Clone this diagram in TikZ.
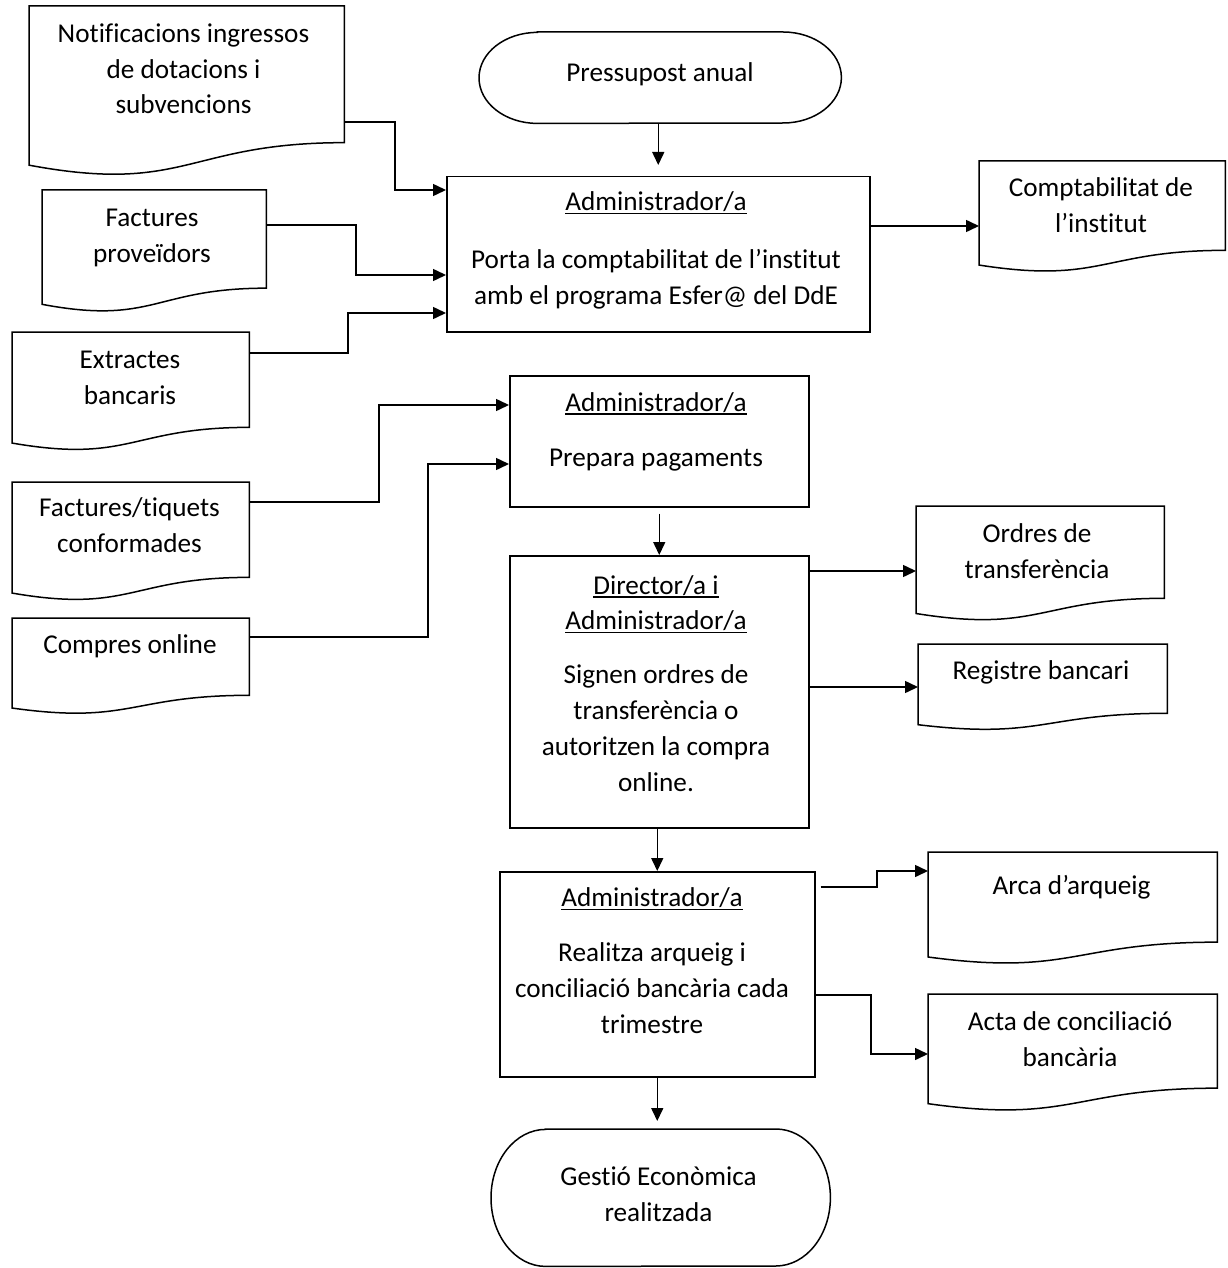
\documentclass[tikz,border=0pt]{standalone}
\usepackage{fontspec}
\setmainfont{Carlito}[Ligatures=NoCommon]
\usetikzlibrary{arrows.meta,calc}
\newcommand\myul[1]{\setbox0\hbox{#1}\rlap{\rule[-3.5pt]{\wd0}{1.3pt}}\box0}
\tikzset{
  line/.style={line width=1.5pt, draw=black, line join=miter},
  arr/.style={line width=1.5pt, -{Triangle[length=13pt,width=12pt]}},
  box/.style={draw, line width=1.5pt, rectangle, inner sep=0pt, anchor=north west},
  ghost/.style={draw=none, rectangle, inner sep=0pt, anchor=north west},
  txt/.style={align=center, anchor=base, inner sep=0pt, font=\fontsize{27.2}{35.8}\selectfont},
}
% name, x1, top, x2, H
\newcommand\docshape[5]{%
  \node[ghost, minimum width={(#4-#2)*1pt}, minimum height={#5*1pt}] (#1) at (#2,#3) {};
  \draw[line] (#1.north west) -- (#1.north east) -- ($(#1.north east)!0.802!(#1.south east)$)
    .. controls ($(#1.north)!0.802!(#1.south)$) and ($(#1.north)!1.107!(#1.south)$) ..
    ($(#1.north west)!0.934!(#1.south west)$) -- cycle;
}
% name, x1, top, x2, bottom
\newcommand\termshape[5]{%
  \node[ghost, minimum width={(#4-#2)*1pt}, minimum height={(#5-#3)*1pt}] (#1) at (#2,#3) {};
  \pgfmathsetmacro\trx{0.161*(#4-#2)}
  \pgfmathsetmacro\try{0.5*(#5-#3)}
  \draw[line] ([xshift=\trx pt]#1.north west) -- ([xshift=-\trx pt]#1.north east)
    arc[start angle=90, end angle=-90, x radius=\trx pt, y radius=\try pt]
    -- ([xshift=\trx pt]#1.south west)
    arc[start angle=270, end angle=90, x radius=\trx pt, y radius=\try pt] -- cycle;
}
\begin{document}
\begin{tikzpicture}[x=1pt, y=-1pt]
\useasboundingbox (0,0) rectangle (1227,1268);

% terminators
\termshape{t1}{479}{32}{841}{123}
\termshape{t2}{491}{1129}{830}{1266}
\node[txt] (t1t) at (660,82) {Pressupost anual};
\node[txt] (t2t) at (658.5,1221) {Gestió Econòmica\\realitzada};

% process boxes
\node[box, minimum width=423pt, minimum height=155pt] (A) at (446,176) {};
\node[box, minimum width=299pt, minimum height=131pt] (B) at (509,375) {};
\node[box, minimum width=299pt, minimum height=272pt] (C) at (509,555) {};
\node[box, minimum width=315pt, minimum height=205pt] (D) at (499,871) {};

% text nodes: anchor base = baseline of the last line
\node[txt] (At) at (656,304) {\myul{Administrador/a}\\[22pt]Porta la comptabilitat de l’institut\\amb el programa Esfer@ del DdE};
\node[txt] (Bt) at (656,466) {\myul{Administrador/a}\\[19pt]Prepara pagaments};
\node[txt] (Ct) at (656,791) {\myul{Director/a i}\\\myul{Administrador/a}\\[18pt]Signen ordres de\\transferència o\\autoritzen la compra\\online.};
\node[txt] (Dt) at (652,1033) {\myul{Administrador/a}\\[19pt]Realitza arqueig i\\conciliació bancària cada\\trimestre};

% documents
\docshape{d1}{29}{6}{344}{170}
\docshape{d2}{42}{190}{266}{122}
\docshape{d3}{12}{332}{249}{118.5}
\docshape{d4}{12}{482}{249}{118.5}
\docshape{d5}{12}{618}{249}{96}
\docshape{r1}{979}{161}{1225}{111}
\docshape{r2}{916}{506}{1164}{114.7}
\docshape{r3}{918}{644}{1167}{86}
\docshape{r4}{928}{852}{1217}{112}
\docshape{r5}{928}{994}{1217}{117}

\node[txt] (d1t) at (183.5,114) {Notificacions ingressos\\de dotacions i\\subvencions};
\node[txt] (d2t) at (152,262) {Factures\\proveïdors};
\node[txt] (d3t) at (130,404) {Extractes\\bancaris};
\node[txt] (d4t) at (129.5,552) {Factures/tiquets\\conformades};
\node[txt] (d5t) at (130,653) {Compres online};
\node[txt] (r1t) at (1101,232) {Comptabilitat de\\l’institut};
\node[txt] (r2t) at (1037,578) {Ordres de\\transferència};
\node[txt] (r3t) at (1041,679) {Registre bancari};
\node[txt] (r4t) at (1071.5,894) {Arca d’arqueig};
\node[txt] (r5t) at (1070,1066) {Acta de conciliació\\bancària};

% main flow
\draw[arr, shorten >=11pt] (A.north |- t1.south) -- (A.north);
\draw[arr, shorten <=6pt] (B.south) -- (B.south |- C.north);
\draw[arr] (D.north |- C.south) -- (D.north);
\draw[arr, shorten >=8pt] (D.south) -- (D.south |- t2.north);

% inputs
\draw[arr] ([yshift=-116pt]d1.north east) -| (395,190) -- (A.west |- 0,190);
\draw[arr] ([yshift=-35pt]d2.north east) -| (356,275) -- (A.west |- 0,275);
\draw[arr] ([yshift=-21pt]d3.north east) -| (348,313) -- (A.west |- 0,313);
\draw[arr] ([yshift=-20pt]d4.north east) -| (379,405) -- (B.west |- 0,405);
\draw[arr] ([yshift=-19pt]d5.north east) -| (428,464) -- (B.west |- 0,464);

% outputs
\draw[arr] (A.east |- 0,226) -- (r1.west |- 0,226);
\draw[arr] (C.east |- 0,571) -- (r2.west |- 0,571);
\draw[arr] (C.east |- 0,687) -- (r3.west |- 0,687);
\draw[arr] ([xshift=5pt]D.east |- 0,887) -| (877,871) -- (r4.west |- 0,871);
\draw[arr] (D.east |- 0,995) -| (871,1054) -- (r5.west |- 0,1054);
\end{tikzpicture}
\end{document}
